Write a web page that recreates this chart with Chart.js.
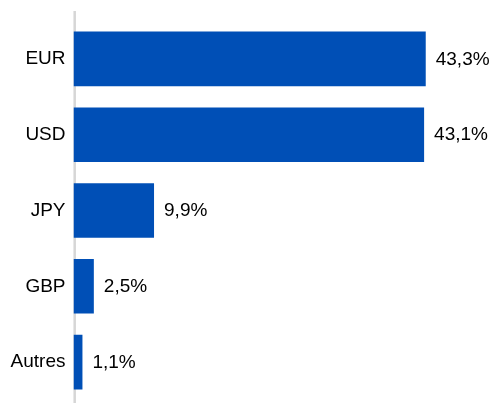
<!DOCTYPE html>
<html><head><meta charset="utf-8">
<script src="https://cdn.jsdelivr.net/npm/chart.js@4"></script>
<style>html,body{margin:0;padding:0;background:#fff}#wrap{width:493px;height:403px;position:relative}</style>
</head><body><div id="wrap"><canvas id="c"></canvas></div>
<script>
const categories = ["EUR", "USD", "JPY", "GBP", "Autres"];
const values = [43.3, 43.1, 9.9, 2.5, 1.1];
const valueLabels = ["43,3%", "43,1%", "9,9%", "2,5%", "1,1%"];

const FONT = "'Liberation Sans', Arial, sans-serif";

const overlay = {
  id: 'overlay',
  beforeDatasetsDraw(chart) {
    const ctx = chart.ctx;
    const x0 = chart.scales.x.getPixelForValue(0);
    ctx.save();
    ctx.strokeStyle = "#d6d6d6";
    ctx.lineWidth = 2.5;
    ctx.beginPath();
    ctx.moveTo(x0 + 1.2, 11);
    ctx.lineTo(x0 + 1.2, 403);
    ctx.stroke();
    ctx.restore();
  },
  afterDatasetsDraw(chart) {
    const ctx = chart.ctx;
    const meta = chart.getDatasetMeta(0);
    ctx.save();
    ctx.font = "19px " + FONT;
    ctx.fillStyle = "#000";
    ctx.textBaseline = "middle";
    ctx.textAlign = "left";
    meta.data.forEach((bar, i) => {
      ctx.fillText(valueLabels[i], bar.x + 10, bar.y + 0.5);
    });
    ctx.restore();
  }
};

new Chart(document.getElementById('c'), {
  type: 'bar',
  data: {
    labels: categories,
    datasets: [{
      data: values,
      backgroundColor: "#004FB6",
      categoryPercentage: 1,
      barPercentage: 0.72
    }]
  },
  options: {
    indexAxis: 'y',
    responsive: true,
    maintainAspectRatio: false,
    animation: false,
    layout: { padding: { top: 21, bottom: 3, right: 3, left: 0 } },
    plugins: { legend: { display: false }, tooltip: { enabled: false } },
    scales: {
      x: { min: 0, max: 51.2, display: false },
      y: {
        grid: { display: false, drawTicks: false },
        border: { display: false },
        ticks: { color: "#000", font: { family: FONT, size: 19 }, padding: 8 },
        afterFit(s) { s.width = 73.5; s.paddingTop = 0; s.paddingBottom = 0; }
      }
    }
  },
  plugins: [overlay]
});
</script></body></html>
